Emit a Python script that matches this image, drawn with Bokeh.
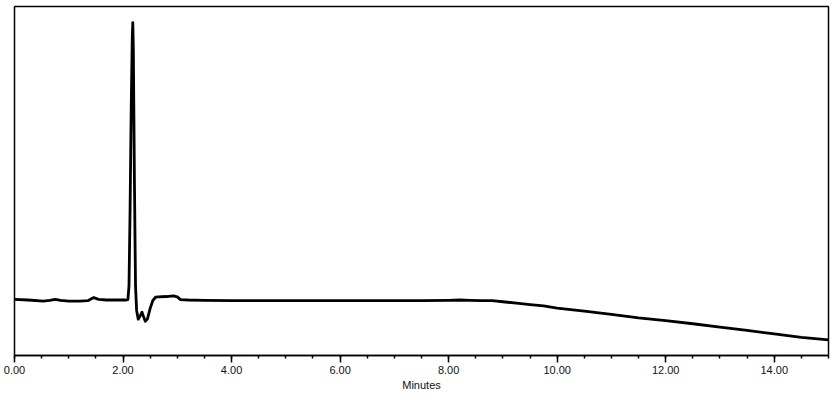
from bokeh.plotting import figure
from bokeh.models import Range1d, FixedTicker, NumeralTickFormatter
from bokeh.embed import file_html
from bokeh.resources import INLINE

# Retention time (minutes) and detector response (AU, relative)
minutes = [0.00, 0.25, 0.53, 0.65, 0.75, 0.85, 1.00, 1.20, 1.35, 1.46, 1.55, 1.70, 1.90, 2.05,
           2.09, 2.11, 2.13, 2.15, 2.17, 2.18, 2.19, 2.21, 2.23, 2.25, 2.28, 2.32, 2.35, 2.38,
           2.41, 2.45, 2.50, 2.55, 2.60, 2.65, 2.80, 2.93, 3.00, 3.06, 3.20, 3.50, 4.00, 4.50,
           5.00, 5.50, 6.00, 6.50, 7.00, 7.50, 8.00, 8.20, 8.40, 8.60, 8.80, 9.00, 9.25, 9.50,
           9.75, 10.00, 10.50, 11.00, 11.50, 12.00, 12.50, 13.00, 13.50, 14.00, 14.50, 15.00]
response = [0.161, 0.159, 0.156, 0.158, 0.161, 0.158, 0.156, 0.156, 0.157, 0.166, 0.161, 0.159, 0.159, 0.159,
            0.160, 0.200, 0.420, 0.700, 0.910, 0.954, 0.880, 0.500, 0.200, 0.130, 0.104, 0.115, 0.124, 0.110,
            0.098, 0.105, 0.135, 0.158, 0.167, 0.168, 0.169, 0.171, 0.168, 0.160, 0.159, 0.158, 0.157, 0.157,
            0.157, 0.157, 0.157, 0.157, 0.157, 0.157, 0.158, 0.159, 0.158, 0.157, 0.157, 0.154, 0.150, 0.146,
            0.142, 0.136, 0.127, 0.118, 0.108, 0.100, 0.091, 0.081, 0.072, 0.062, 0.052, 0.045]

major_ticks = [0, 2, 4, 6, 8, 10, 12, 14]
minor_ticks = [0.5 * i for i in range(31)]
x_label = "Minutes"

p = figure(width=836, height=393, output_backend="svg", toolbar_location=None,
           x_range=Range1d(0, 15), y_range=Range1d(0, 1.0),
           y_axis_location=None, min_border_left=14, min_border_right=8,
           min_border_top=6, min_border_bottom=0)

p.line(minutes, response, line_color="black", line_width=2.8, line_join="round")

p.xgrid.visible = False
p.ygrid.visible = False
p.outline_line_color = "black"
p.outline_line_width = 1.5
p.background_fill_color = "white"
p.border_fill_color = "white"

ax = p.xaxis[0]
ax.ticker = FixedTicker(ticks=major_ticks, minor_ticks=minor_ticks)
ax.formatter = NumeralTickFormatter(format="0.00")
ax.axis_line_color = "black"
ax.axis_line_width = 1.5
ax.major_tick_line_color = "black"
ax.major_tick_line_width = 1.5
ax.major_tick_out = 7
ax.major_tick_in = 0
ax.minor_tick_line_color = "black"
ax.minor_tick_line_width = 1.5
ax.minor_tick_out = 3
ax.minor_tick_in = 0
ax.major_label_text_font = "Liberation Sans"
ax.major_label_text_font_size = "11px"
ax.major_label_text_color = "#111111"
ax.major_label_standoff = 3
ax.axis_label = x_label
ax.axis_label_text_font = "Liberation Sans"
ax.axis_label_text_font_size = "11px"
ax.axis_label_text_font_style = "normal"
ax.axis_label_text_color = "#111111"
ax.axis_label_standoff = 2

open("out.html", "w").write(file_html(p, INLINE))
